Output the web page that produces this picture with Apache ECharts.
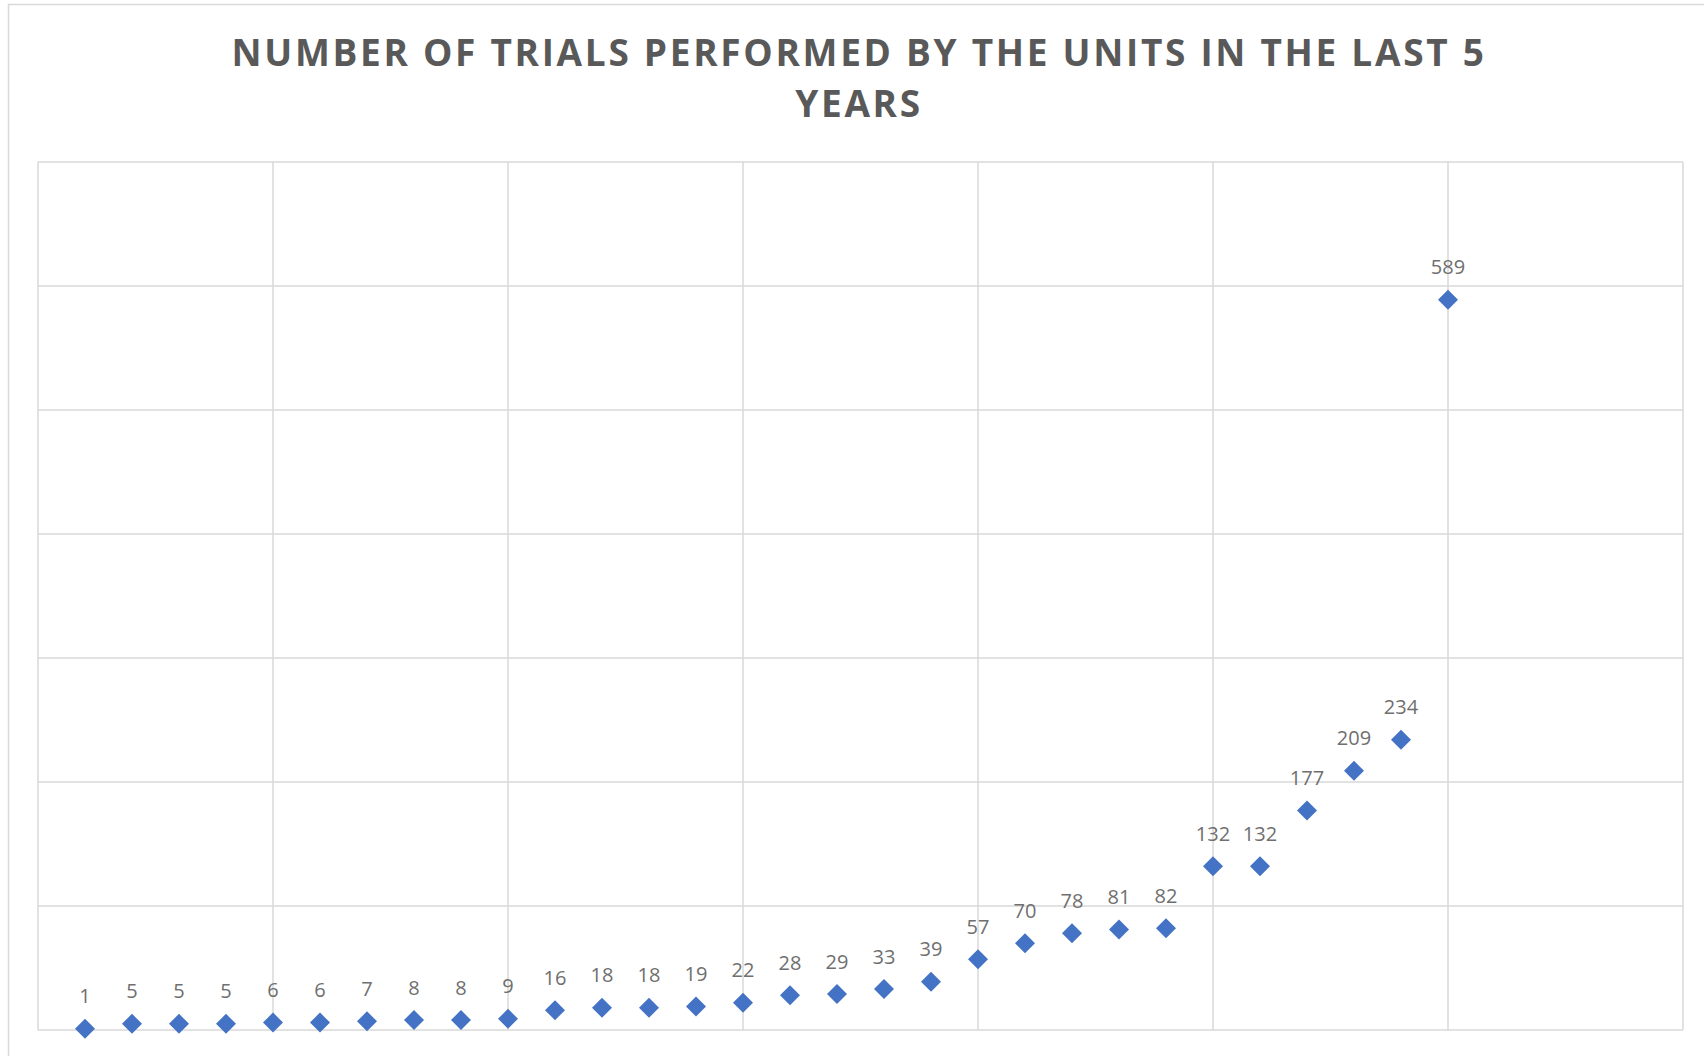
<!DOCTYPE html>
<html>
<head>
<meta charset="utf-8">
<script src="https://cdn.jsdelivr.net/npm/echarts@6/dist/echarts.min.js"></script>
<style>
html,body{margin:0;padding:0;background:#fff;}
#c{width:1704px;height:1056px;}
#c text[style*="bold"]{letter-spacing:2.7px;}
</style>
</head>
<body>
<div id="c"></div>
<script>
const titleText = "NUMBER OF TRIALS PERFORMED BY THE UNITS IN THE LAST 5\nYEARS";
const units = [1,2,3,4,5,6,7,8,9,10,11,12,13,14,15,16,17,18,19,20,21,22,23,24,25,26,27,28,29,30];
const trials = [1,5,5,5,6,6,7,8,8,9,16,18,18,19,22,28,29,33,39,57,70,78,81,82,132,132,177,209,234,589];

const chart = echarts.init(document.getElementById('c'), null, {renderer:'svg'});
const gridColor = '#d9d9d9';
chart.setOption({
  animation:false,
  backgroundColor:'#ffffff',
  graphic:[{
    type:'rect', shape:{x:8.5,y:4.5,width:1800,height:1200},
    style:{fill:'none',stroke:gridColor,lineWidth:1.5}, silent:true, z:-1
  }],
  title:{
    text:titleText,
    left:854, top:21, textAlign:'center',
    textStyle:{fontFamily:'Open Sans', fontWeight:'bold', fontSize:37, color:'#595959', lineHeight:51}
  },
  grid:{left:38, right:21, top:162, bottom:26, containLabel:false},
  xAxis:{
    type:'value', min:0, max:35, interval:5,
    axisLine:{show:false}, axisTick:{show:false}, axisLabel:{show:false},
    splitLine:{show:true, lineStyle:{color:gridColor, width:1.5}}
  },
  yAxis:{
    type:'value', min:0, max:700, interval:100,
    axisLine:{show:false}, axisTick:{show:false}, axisLabel:{show:false},
    splitLine:{show:true, lineStyle:{color:gridColor, width:1.5}}
  },
  series:[{
    type:'scatter',
    symbol:'diamond',
    symbolSize:20,
    itemStyle:{color:'#4472c4', opacity:1},
    data: units.map((u,i)=>[u, trials[i]]),
    label:{
      show:true, position:'top', distance:13,
      formatter:p=>String(p.value[1]),
      fontFamily:'Open Sans', fontSize:20, color:'#6f6f6f'
    }
  }]
});
</script>
</body>
</html>
